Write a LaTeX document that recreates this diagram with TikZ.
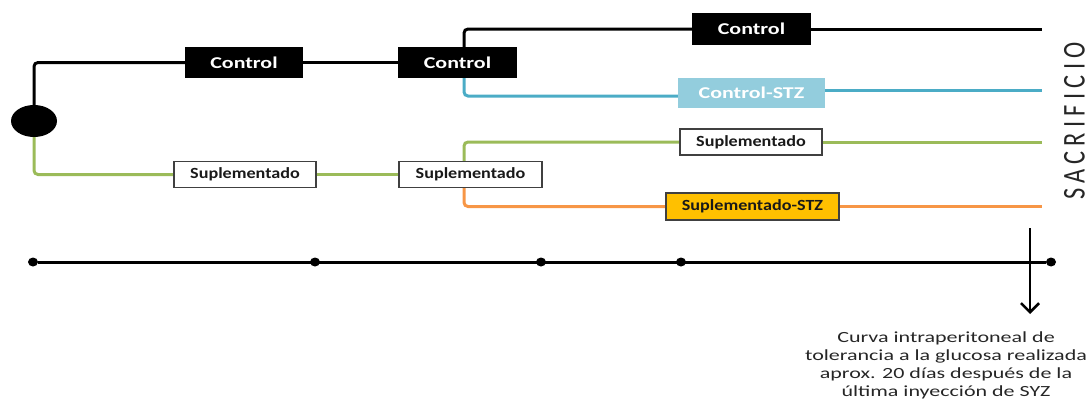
\documentclass[tikz,border=0pt]{standalone}
\usepackage{fontspec}
\setmainfont{Carlito}
\newfontfamily\ctlfont{Carlito}[FakeStretch=1.33]
\newfontfamily\supfont{Carlito}[FakeStretch=1.17]
\newfontfamily\notefont{Carlito}[FakeStretch=1.42]
\newfontfamily\sacfont{Carlito}[LetterSpace=21.7]
\usetikzlibrary{shapes.geometric,arrows.meta,backgrounds}
\definecolor{lnblue}{HTML}{4BACC6}
\definecolor{lngreen}{HTML}{9BBB59}
\definecolor{lnorange}{HTML}{F79646}
\definecolor{boxblue}{HTML}{93CDDD}
\definecolor{boxyellow}{HTML}{FFC000}
\tikzset{
  lbl/.style={draw, line width=1.2pt, inner sep=0pt},
  ctl/.style={lbl, fill=black, draw=black, text=white,
    font=\ctlfont\bfseries\fontsize{16.5}{18}\selectfont},
  ctlstz/.style={lbl, fill=boxblue, draw=boxblue, text=white,
    font=\ctlfont\bfseries\fontsize{16.5}{18}\selectfont},
  sup/.style={lbl, fill=white, draw=black!75, text=black!90,
    font=\supfont\bfseries\fontsize{15.5}{18}\selectfont},
  supstz/.style={lbl, fill=boxyellow, draw=black!75, text=black!90,
    font=\supfont\bfseries\fontsize{15.5}{18}\selectfont},
  conn/.style={line width=3pt, rounded corners=4pt},
  dot/.style={ellipse, fill=black, inner sep=0pt, minimum width=10pt, minimum height=9pt},
}
\begin{document}
\begin{tikzpicture}[x=1pt,y=-1pt]
\useasboundingbox (0,0) rectangle (1091,399);
% start
\node[ellipse, fill=black, inner sep=0pt, minimum width=46pt, minimum height=32pt] (circ) at (34,121) {};
% labels
\node[ctl, minimum width=116pt, minimum height=29pt] (c1) at (244,62.5) {Control};
\node[ctl, minimum width=117pt, minimum height=29pt] (c2) at (457.5,62.5) {Control};
\node[ctl, minimum width=117pt, minimum height=30pt] (c3) at (751.5,29) {Control};
\node[ctlstz, minimum width=145pt, minimum height=28pt] (cs) at (751.5,93) {Control-STZ};
\node[sup, minimum width=142pt, minimum height=26pt] (s1) at (245,174.5) {Suplementado};
\node[sup, minimum width=143pt, minimum height=26pt] (s2) at (470.5,174.5) {Suplementado};
\node[sup, minimum width=142pt, minimum height=26pt] (s3) at (751,142) {Suplementado};
\node[supstz, minimum width=173pt, minimum height=27pt] (ss) at (752.5,206.5) {Suplementado-STZ};
% end points
\coordinate (brx) at (464,0);
\coordinate (e1) at (1042,29);
\coordinate (e2) at (1042,90);
\coordinate (e3) at (1042,142);
\coordinate (e4) at (1042,206.5);
\begin{scope}[on background layer]
  \draw[conn] (circ.north) |- (c1.west);
  \draw[conn] (c1.east) -- (c2.west);
  \draw[conn] (c2.north -| brx) |- (c3.west);
  \draw[conn] (c3.east) -- (e1);
  \draw[conn, lnblue] (c2.south -| brx) |- ([yshift=-3pt]cs.west);
  \draw[conn, lnblue] ([yshift=3pt]cs.east) -- (e2);
  \draw[conn, lngreen] (circ.south) |- (s1.west);
  \draw[conn, lngreen] (s1.east) -- (s2.west);
  \draw[conn, lngreen] (s2.north -| brx) |- (s3.west);
  \draw[conn, lngreen] (s3.east) -- (e3);
  \draw[conn, lnorange] (s2.south -| brx) |- (ss.west);
  \draw[conn, lnorange] (ss.east) -- (e4);
\end{scope}
% timeline
\node[dot] (t0) at (33,262) {};
\node[dot] (t1) at (315,262) {};
\node[dot] (t2) at (541,262) {};
\node[dot] (t3) at (681,262) {};
\node[dot] (t4) at (1051,262) {};
\draw[line width=3pt] (t0) -- (t4);
% arrow and note
\coordinate (a1) at (1030,228);
\coordinate (a2) at (1030,314);
\draw[line width=2.6pt, -{Straight Barb[length=9pt,width=18pt]}] (a1) -- (a2);
\node[anchor=north, align=center, inner sep=0pt, text=black!85,
  font=\notefont\fontsize{15.5}{18}\selectfont] (note) at (946,331.5)
  {Curva intraperitoneal de\\tolerancia a la glucosa realizada\\aprox. 20 días después de la\\última inyección de SYZ};
% sacrificio
\node[rotate=90, inner sep=0pt, text=black!85, font=\sacfont\fontsize{24.4}{26}\selectfont] (sac) at (1074.5,121)
  {\scalebox{1}[1.3]{SACRIFICIO}};
\end{tikzpicture}
\end{document}
